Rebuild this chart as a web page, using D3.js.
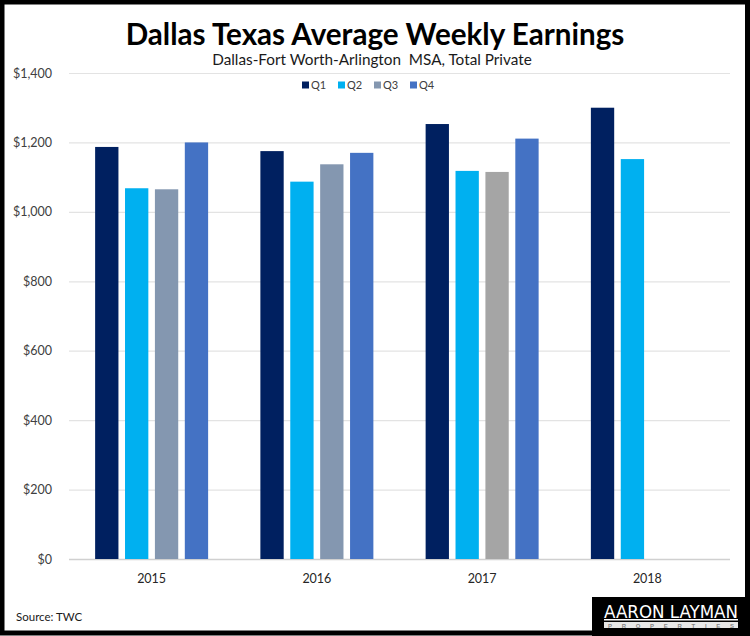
<!DOCTYPE html>
<html><head><meta charset="utf-8">
<script src="https://cdn.jsdelivr.net/npm/d3@7"></script>
<style>html,body{margin:0;padding:0;background:#fff;}svg{display:block;}</style>
</head><body>
<script>
const years = ["2015", "2016", "2017", "2018"];
const quarters = ["Q1", "Q2", "Q3", "Q4"];
const q1 = [1187, 1175, 1253, 1300];
const q2 = [1068, 1087, 1118, 1152];
const q3 = [1065, 1137, 1115, null];
const q4 = [1200, 1170, 1211, null];
const yTicks = [0, 200, 400, 600, 800, 1000, 1200, 1400];

const series = [q1, q2, q3, q4];
const colors = {Q1: "#002060", Q2: "#00b0f0", Q3: "#8497b0", Q4: "#4472c4"};
const overrideColor = {"2017-Q3": "#a5a5a5"};

const W = 750, H = 636;
const font = "Lato, 'Open Sans', sans-serif";
const svg = d3.select("body").append("svg").attr("width", W).attr("height", H);
svg.append("rect").attr("width", W).attr("height", H).attr("fill", "#fff");

const x0 = d3.scaleBand().domain(years).range([69, 730]).paddingInner(0).paddingOuter(0);
const groupW = 113;
const x1 = d3.scaleBand().domain(quarters).range([0, groupW]).paddingInner(0.22);
const y = d3.scaleLinear().domain([0, 1400]).range([559, 73]);

// gridlines
svg.append("g").selectAll("line").data(yTicks).join("line")
  .attr("x1", 69).attr("x2", 730)
  .attr("y1", d => y(d) + 0.5).attr("y2", d => y(d) + 0.5)
  .attr("stroke", d => d === 0 ? "#d0d0d0" : "#e3e3e3").attr("stroke-width", d => d === 0 ? 1.5 : 1.2);

// y labels
const yAxis = d3.axisLeft(y).tickValues(yTicks).tickSize(0).tickPadding(0)
  .tickFormat(d => "$" + d3.format(",")(d));
const ga = svg.append("g").attr("transform", "translate(52,0)").call(yAxis);
ga.select(".domain").remove();
ga.selectAll("text").attr("font-family", font).attr("font-size", 12.5).attr("fill", "#404040");

// bars
const data = [];
years.forEach((yr, i) => quarters.forEach((q, j) => {
  const v = series[j][i];
  if (v != null) data.push({yr, q, v});
}));
svg.append("g").selectAll("rect").data(data).join("rect")
  .attr("x", d => x0(d.yr) + (x0.bandwidth() - groupW) / 2 + x1(d.q))
  .attr("width", x1.bandwidth())
  .attr("y", d => y(d.v))
  .attr("height", d => y(0) - y(d.v))
  .attr("fill", d => overrideColor[d.yr + "-" + d.q] || colors[d.q]);

// x labels
const xAxis = d3.axisBottom(x0).tickSize(0).tickPadding(0);
const gx = svg.append("g").attr("transform", "translate(0,583)").call(xAxis);
gx.select(".domain").remove();
gx.selectAll("text").attr("font-family", font).attr("font-size", 12.5).attr("fill", "#262626").attr("dy", 0);

// title
svg.append("text").attr("x", 375).attr("y", 45).attr("text-anchor", "middle")
  .attr("font-family", font).attr("font-weight", 700).attr("font-size", 29.6).attr("fill", "#000")
  .text("Dallas Texas Average Weekly Earnings");
svg.append("text").attr("x", 372).attr("y", 65).attr("text-anchor", "middle")
  .attr("font-family", font).attr("font-size", 15.3).attr("fill", "#1a1a1a")
  .text("Dallas-Fort Worth-Arlington\u00a0 MSA, Total Private");

// legend
const lg = svg.append("g").selectAll("g").data(quarters).join("g")
  .attr("transform", (d, i) => `translate(${302 + i * 36},85)`);
lg.append("rect").attr("x", 0).attr("y", -3.5).attr("width", 7).attr("height", 7).attr("fill", d => colors[d]);
lg.append("text").attr("x", 9).attr("y", 4).attr("font-family", font).attr("font-size", 11).attr("fill", "#404040").text(d => d);

// source
svg.append("text").attr("x", 16).attr("y", 621).attr("font-family", font).attr("font-size", 11.5).attr("fill", "#1a1a1a").text("Source: TWC");

// logo
svg.append("rect").attr("x", 592).attr("y", 597).attr("width", 158).attr("height", 39).attr("fill", "#000");
svg.append("text").attr("x", 671).attr("y", 618).attr("text-anchor", "middle")
  .attr("font-family", "'DejaVu Sans Condensed', 'Liberation Sans Narrow', sans-serif").attr("font-size", 17)
  .attr("fill", "#fff").attr("textLength", 134).attr("lengthAdjust", "spacingAndGlyphs").text("AARON LAYMAN");
svg.append("rect").attr("x", 604).attr("y", 619).attr("width", 134).attr("height", 1.5).attr("fill", "#fff");
svg.append("rect").attr("x", 604).attr("y", 622).attr("width", 134).attr("height", 6).attr("fill", "#e8e8e8");
svg.append("text").attr("x", 671).attr("y", 627.5).attr("text-anchor", "middle")
  .attr("font-family", "'Liberation Sans', sans-serif").attr("font-size", 6).attr("font-weight", 700)
  .attr("fill", "#888").attr("textLength", 126).attr("lengthAdjust", "spacing").text("PROPERTIES");

// border
svg.append("rect").attr("x", 2).attr("y", 2).attr("width", W - 4.5).attr("height", H - 5)
  .attr("fill", "none").attr("stroke", "#000").attr("stroke-width", 5);
</script>
</body></html>
